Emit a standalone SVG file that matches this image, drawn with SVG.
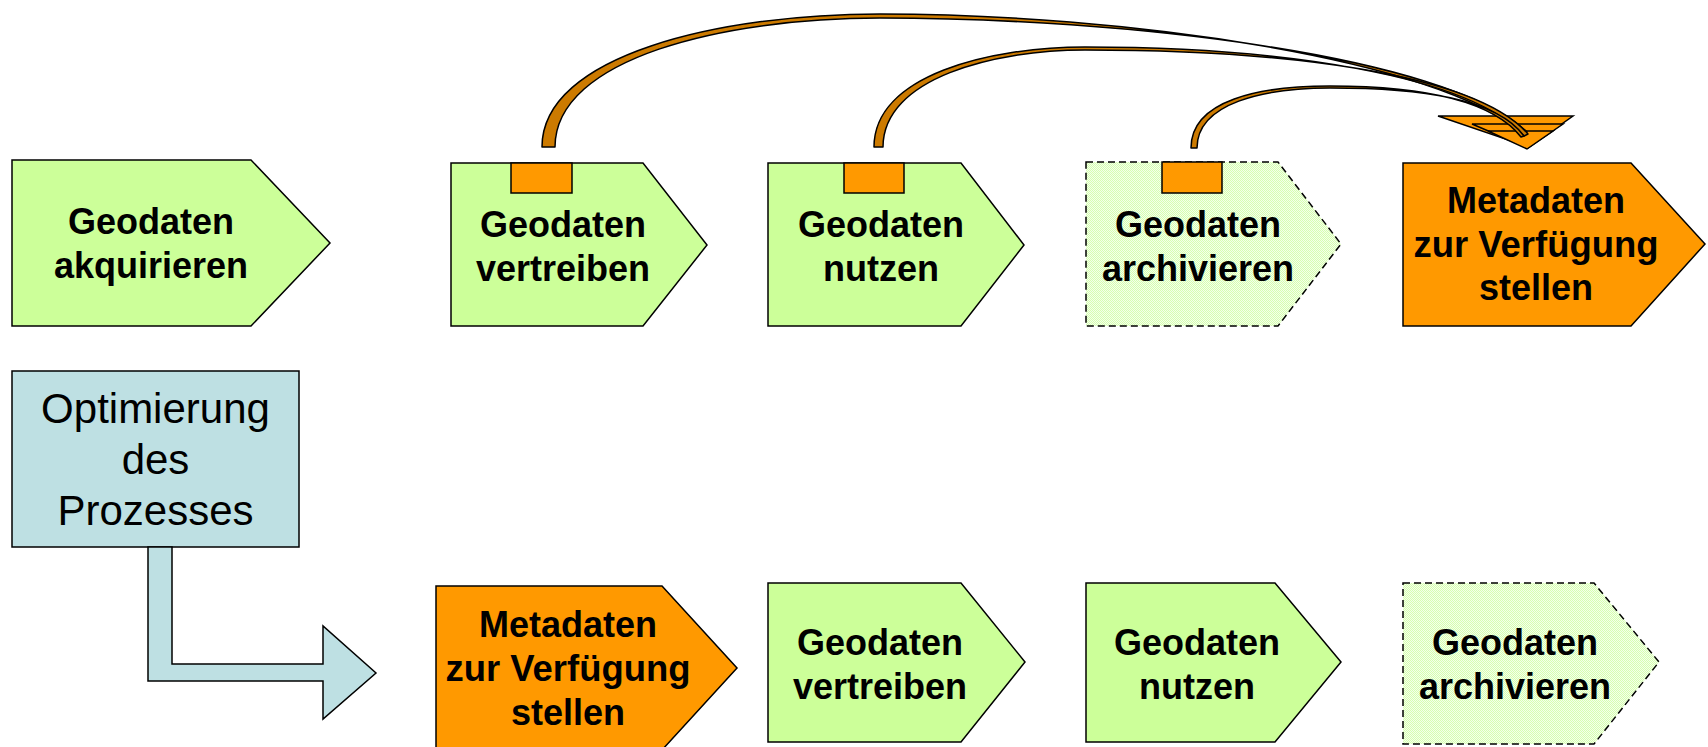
<svg xmlns="http://www.w3.org/2000/svg" width="1708" height="747" viewBox="0 0 1708 747">
<defs>
<pattern id="dots" width="2" height="2" patternUnits="userSpaceOnUse">
<rect width="2" height="2" fill="#F4FFEA"/>
<rect width="1" height="1" fill="#D6FFB0"/>
<rect x="1" y="1" width="1" height="1" fill="#D6FFB0"/>
</pattern>
<style>
.g{fill:#CCFF99;stroke:#000;stroke-width:1.5}
.d{fill:url(#dots);stroke:#000;stroke-width:1.5;stroke-dasharray:7 4}
.o{fill:#FF9900;stroke:#000;stroke-width:1.5}
.b{fill:#BEE0E3;stroke:#000;stroke-width:1.5}
.band{fill:#CC7A00;stroke:#000;stroke-width:1.5;stroke-linejoin:round}
.t{font-family:"Liberation Sans",Arial,sans-serif;font-weight:bold;font-size:36px;text-anchor:middle;fill:#000}
.r{font-family:"Liberation Sans",Arial,sans-serif;font-size:42px;text-anchor:middle;fill:#000}
</style>
</defs>
<rect width="1708" height="747" fill="#FFFFFF"/>

<g id="n1">
<polygon class="g" points="12,160 251,160 330,243 251,326 12,326"/>
<text class="t" x="151" y="234">Geodaten</text>
<text class="t" x="151" y="278">akquirieren</text>
</g>
<g id="n2">
<polygon class="g" points="451,163 643,163 707,245 643,326 451,326"/>
<rect class="o" x="511" y="163" width="61" height="30"/>
<text class="t" x="563" y="237">Geodaten</text>
<text class="t" x="563" y="281">vertreiben</text>
</g>
<g id="n3">
<polygon class="g" points="768,163 961,163 1024,245 961,326 768,326"/>
<rect class="o" x="844" y="163" width="60" height="30"/>
<text class="t" x="881" y="237">Geodaten</text>
<text class="t" x="881" y="281">nutzen</text>
</g>
<g id="n4">
<polygon class="d" points="1086,162 1278,162 1341,244 1278,326 1086,326"/>
<rect class="o" x="1162" y="162" width="60" height="31"/>
<text class="t" x="1198" y="237">Geodaten</text>
<text class="t" x="1198" y="281">archivieren</text>
</g>
<g id="n5">
<polygon class="o" points="1403,163 1631,163 1705,244 1631,326 1403,326"/>
<text class="t" x="1536" y="213">Metadaten</text>
<text class="t" x="1536" y="257" textLength="245" lengthAdjust="spacingAndGlyphs">zur Verfügung</text>
<text class="t" x="1536" y="300">stellen</text>
</g>

<g id="opt">
<rect class="b" x="12" y="371" width="287" height="176"/>
<text class="r" x="155.5" y="423">Optimierung</text>
<text class="r" x="155.5" y="474">des</text>
<text class="r" x="155.5" y="525">Prozesses</text>
</g>

<g id="m1">
<polygon class="o" points="436,586 662,586 737,668 662,750 436,750"/>
<text class="t" x="568" y="637">Metadaten</text>
<text class="t" x="568" y="681" textLength="245" lengthAdjust="spacingAndGlyphs">zur Verfügung</text>
<text class="t" x="568" y="725">stellen</text>
</g>
<g id="m2">
<polygon class="g" points="768,583 961,583 1025,662 961,742 768,742"/>
<text class="t" x="880" y="655">Geodaten</text>
<text class="t" x="880" y="699">vertreiben</text>
</g>
<g id="m3">
<polygon class="g" points="1086,583 1275,583 1341,662 1275,742 1086,742"/>
<text class="t" x="1197" y="655">Geodaten</text>
<text class="t" x="1197" y="699">nutzen</text>
</g>
<g id="m4">
<polygon class="d" points="1403,583 1594,583 1659,662 1594,744 1403,744"/>
<text class="t" x="1515" y="655">Geodaten</text>
<text class="t" x="1515" y="699">archivieren</text>
</g>

<g id="connectors">
<polygon class="b" points="148,547 172,547 172,664 323,664 323,626 376,673 323,719 323,681 148,681"/>
<polygon class="o" points="1438,116 1573,116 1529,147"/>
<polygon class="o" points="1472,124 1563,124 1528,148"/>
<polygon class="o" points="1488,131 1553,131 1527,149"/>
<path class="band" d="M542,147 C542,55 720,14 880,14 C1120,14 1440,58 1522,134 L1527,132 C1445,54 1120,18 880,18 C724,18 555,58 555,147 Z"/>
<path class="band" d="M874,147 C874,75 990,47 1085,47 C1280,47 1470,75 1524,136 L1528,134 C1474,72 1280,50 1085,50 C994,50 883,78 883,147 Z"/>
<path class="band" d="M1191,148 C1191,100 1260,86 1330,86 C1420,86 1492,100 1521,137 L1524,136 C1496,98 1420,88 1330,88 C1264,88 1197,103 1197,148 Z"/>
</g>
</svg>
